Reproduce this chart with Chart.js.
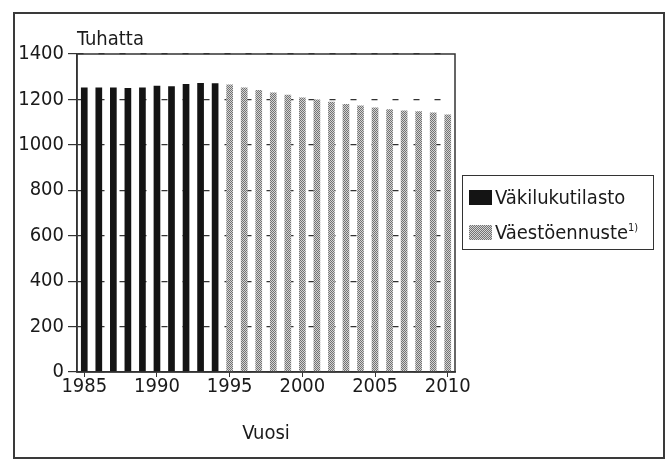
<!DOCTYPE html>
<html>
<head>
<meta charset="utf-8">
<script src="https://cdn.jsdelivr.net/npm/chart.js@4.4.1/dist/chart.umd.min.js"></script>
<style>
  html, body { margin: 0; padding: 0; background: #fff; }
  #wrap { position: relative; width: 666px; height: 460px; }
  #frame { position: absolute; left: 13px; top: 12px; width: 648px; height: 443px; border: 2px solid #3a3a3a; pointer-events: none; }
  #legend { position: absolute; left: 462px; top: 175px; width: 190px; height: 73px; border: 1.5px solid #333;
    font-family: "DejaVu Sans Condensed", "Liberation Sans Narrow", sans-serif; font-size: 20px; color: #1a1a1a; }
  #legend .item { position: absolute; left: 6px; height: 20px; white-space: nowrap; line-height: 20px; }
  #legend .sw { display: inline-block; width: 23px; height: 15px; vertical-align: -1px; margin-right: 3px; box-sizing: border-box; }
  #legend sup { font-size: 11px; vertical-align: 8px; line-height: 0; }
</style>
</head>
<body>
<div id="wrap">
  <canvas id="chart" width="666" height="460"></canvas>
  <div id="frame"></div>
  <div id="legend"></div>
</div>
<script>
// categories
const years = ['1985','1986','1987','1988','1989','1990','1991','1992','1993','1994',
  '1995','1996','1997','1998','1999','2000','2001','2002','2003','2004',
  '2005','2006','2007','2008','2009','2010']
// series (thousands)
const tilasto = [1253,1253,1253,1250,1252,1260,1258,1268,1272,1271,
  null,null,null,null,null,null,null,null,null,null,null,null,null,null,null,null]
const ennuste = [null,null,null,null,null,null,null,null,null,null,
  1266,1252,1242,1231,1221,1209,1200,1190,1180,1173,1164,1157,1151,1148,1143,1134]
const yTicks = [0,200,400,600,800,1000,1200,1400]
const seriesNames = ['Väkilukutilasto', 'Väestöennuste']

const FONT = '"DejaVu Sans Condensed", "Liberation Sans Narrow", sans-serif'
const INK = '#1a1a1a'

// stipple pattern for forecast bars
function stipple() {
  const c = document.createElement('canvas')
  c.width = 4; c.height = 4
  const g = c.getContext('2d')
  for (let x = 0; x < 4; x++) {
    for (let y = 0; y < 4; y++) {
      g.fillStyle = (x + y) % 2 === 0 ? '#737373' : '#d4d4d4'
      g.fillRect(x, y, 1, 1)
    }
  }
  return g.createPattern(c, 'repeat')
}
const pattern = stipple()

// frame round the plot + unit text
const plotFrame = {
  id: 'plotFrame',
  afterDraw(chart) {
    const a = chart.chartArea
    const ctx = chart.ctx
    ctx.save()
    ctx.strokeStyle = '#333'
    ctx.lineWidth = 1.5
    ctx.strokeRect(a.left, a.top, a.right - a.left, a.bottom - a.top)
    ctx.fillStyle = INK
    ctx.font = '20px ' + FONT
    ctx.textBaseline = 'alphabetic'
    ctx.textAlign = 'left'
    ctx.fillText('Tuhatta', a.left, a.top - 9)
    ctx.restore()
  }
}

const data = {
  labels: years,
  datasets: [{
    label: seriesNames[0],
    data: tilasto,
    backgroundColor: '#141414',
    barPercentage: 0.46,
    categoryPercentage: 1
  }, {
    label: seriesNames[1],
    data: ennuste,
    backgroundColor: pattern,
    barPercentage: 0.46,
    categoryPercentage: 1
  }]
}

const config = {
  type: 'bar',
  data: data,
  plugins: [plotFrame],
  options: {
    responsive: false,
    animation: false,
    skipNull: true,
    layout: { padding: { top: 54, right: 211, bottom: 10, left: 0 } },
    plugins: { legend: { display: false }, tooltip: { enabled: false } },
    scales: {
      x: {
        offset: true,
        grid: {
          offset: false,
          drawOnChartArea: false,
          tickLength: 5,
          tickColor: ctx => (Number(years[ctx.index]) % 5 === 0 ? '#333' : 'rgba(0,0,0,0)')
        },
        border: { color: '#333', width: 1.5 },
        ticks: {
          autoSkip: false,
          maxRotation: 0,
          padding: -2,
          color: INK,
          font: { family: FONT, size: 20 },
          callback: (v, i) => (Number(years[i]) % 5 === 0 ? years[i] : '')
        },
        title: { display: true, text: 'Vuosi', color: INK, font: { family: FONT, size: 20 }, padding: { top: 25, bottom: 4 } }
      },
      y: {
        min: 0,
        max: 1400,
        afterFit: s => { s.width = 77 },
        afterBuildTicks: s => { s.ticks = yTicks.map(v => ({ value: v })) },
        grid: { color: '#333', lineWidth: 1.2, tickLength: 9, tickColor: '#333' },
        border: { color: '#333', width: 1.5, dash: [6, 15] },
        ticks: { padding: 4, color: INK, font: { family: FONT, size: 20 }, callback: v => String(v) }
      }
    }
  }
}

const myChart = new Chart(document.getElementById('chart'), config)

// html legend from the datasets
const legendBox = document.getElementById('legend')
myChart.data.datasets.forEach((ds, i) => {
  const item = document.createElement('div')
  item.className = 'item'
  item.style.top = (i === 0 ? 11 : 46) + 'px'
  const sw = document.createElement('span')
  sw.className = 'sw'
  if (i === 0) sw.style.background = ds.backgroundColor
  else sw.style.background = 'repeating-conic-gradient(#737373 0 25%, #d4d4d4 0 50%) 0 0 / 2px 2px'
  item.appendChild(sw)
  item.appendChild(document.createTextNode(ds.label))
  if (i === 1) {
    const sup = document.createElement('sup')
    sup.textContent = '1)'
    item.appendChild(sup)
  }
  legendBox.appendChild(item)
})
</script>
</body>
</html>
